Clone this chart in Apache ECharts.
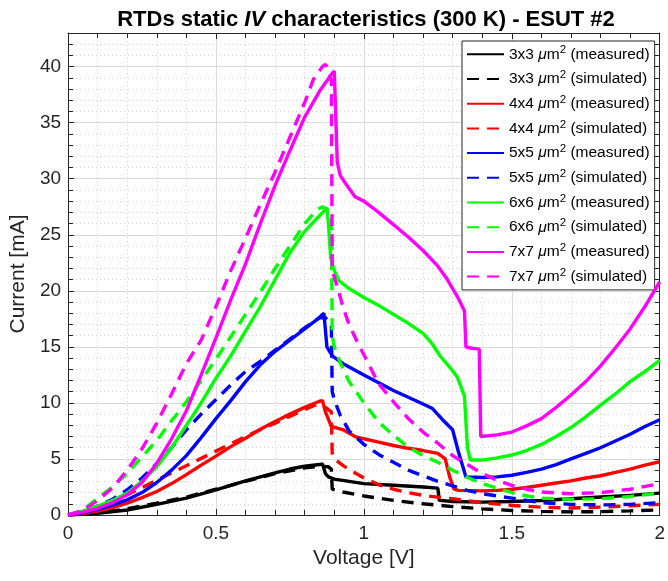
<!DOCTYPE html>
<html><head><meta charset="utf-8">
<script src="https://cdn.jsdelivr.net/npm/echarts@6/dist/echarts.min.js"></script>
<style>html,body{margin:0;padding:0;background:#fff}#c{width:668px;height:581px}</style>
</head><body><div id="c"></div>
<script>
// ---- tick labels ----
const xTicks = [0, 0.5, 1, 1.5, 2];
const xTickLabels = ['0', '0.5', '1', '1.5', '2'];
const yTicks = [0, 5, 10, 15, 20, 25, 30, 35, 40];
const yTickLabels = ['0', '5', '10', '15', '20', '25', '30', '35', '40'];

// ---- series names ----
const seriesNames = [
  '3x3 μm2 (measured)', '3x3 μm2 (simulated)',
  '4x4 μm2 (measured)', '4x4 μm2 (simulated)',
  '5x5 μm2 (measured)', '5x5 μm2 (simulated)',
  '6x6 μm2 (measured)', '6x6 μm2 (simulated)',
  '7x7 μm2 (measured)', '7x7 μm2 (simulated)'
];
const seriesColors = ['#000000', '#000000', '#ff0000', '#ff0000', '#0000ff', '#0000ff', '#00ff00', '#00ff00', '#ff00ff', '#ff00ff'];

// ---- data: [voltage V, current mA] ----
const iv3m = [[0,0],[0.1,0.15],[0.2,0.45],[0.3,0.95],[0.4,1.5],[0.5,2.25],[0.6,3.05],[0.7,3.75],[0.75,4.1],[0.8,4.35],[0.85,4.5],[0.86,4.55],[0.87,3.7],[0.88,3.4],[0.9,3.2],[0.95,3.0],[1.0,2.8],[1.1,2.65],[1.2,2.5],[1.25,2.4],[1.255,1.3],[1.3,1.2],[1.4,1.15],[1.5,1.2],[1.6,1.3],[1.7,1.45],[1.8,1.6],[1.9,1.75],[2.0,1.95]];
const iv3s = [[0,0],[0.1,0.2],[0.2,0.55],[0.3,1.05],[0.4,1.6],[0.5,2.3],[0.6,3.0],[0.7,3.7],[0.8,4.2],[0.85,4.35],[0.88,4.3],[0.89,4.1],[0.893,2.3],[0.93,2.05],[1.0,1.7],[1.1,1.3],[1.2,1.0],[1.3,0.75],[1.4,0.55],[1.5,0.4],[1.6,0.32],[1.7,0.28],[1.8,0.3],[1.9,0.37],[2.0,0.45]];
const iv4m = [[0,0],[0.05,0.12],[0.1,0.35],[0.15,0.65],[0.2,1.05],[0.25,1.55],[0.3,2.1],[0.35,2.8],[0.4,3.6],[0.45,4.45],[0.5,5.25],[0.55,6.1],[0.6,6.85],[0.65,7.65],[0.7,8.35],[0.75,9.0],[0.8,9.6],[0.85,10.15],[0.86,10.2],[0.87,9.2],[0.89,7.9],[0.93,7.6],[0.97,7.0],[1.0,6.8],[1.05,6.5],[1.1,6.2],[1.15,5.95],[1.2,5.75],[1.25,5.5],[1.275,5.0],[1.29,3.4],[1.305,2.3],[1.32,2.2],[1.4,2.15],[1.45,2.2],[1.5,2.3],[1.55,2.45],[1.6,2.65],[1.65,2.85],[1.7,3.05],[1.75,3.3],[1.8,3.5],[1.85,3.8],[1.9,4.1],[1.95,4.45],[2.0,4.75]];
const iv4s = [[0,0],[0.05,0.25],[0.1,0.7],[0.15,1.2],[0.2,1.8],[0.25,2.45],[0.3,3.1],[0.35,3.75],[0.4,4.4],[0.45,5.05],[0.5,5.7],[0.55,6.35],[0.6,7.0],[0.65,7.6],[0.7,8.2],[0.75,8.8],[0.8,9.4],[0.84,9.85],[0.87,9.6],[0.89,9.2],[0.893,5.5],[0.9,5.0],[0.93,4.4],[0.96,3.9],[1.0,3.3],[1.05,2.7],[1.1,2.3],[1.15,2.0],[1.2,1.75],[1.25,1.6],[1.3,1.45],[1.4,1.1],[1.5,0.85],[1.6,0.7],[1.7,0.62],[1.8,0.7],[1.9,0.82],[2.0,0.95]];
const iv5m = [[0,0],[0.05,0.2],[0.1,0.5],[0.15,0.9],[0.2,1.35],[0.25,2.0],[0.3,2.9],[0.35,4.0],[0.4,5.3],[0.45,6.9],[0.5,8.6],[0.55,10.2],[0.6,11.9],[0.65,13.4],[0.7,14.6],[0.75,15.6],[0.8,16.6],[0.84,17.4],[0.865,18.0],[0.875,15.0],[0.893,14.2],[0.93,13.5],[1.0,12.5],[1.1,11.1],[1.2,9.9],[1.232,9.5],[1.266,8.5],[1.3,7.6],[1.32,5.6],[1.345,3.4],[1.4,3.35],[1.45,3.4],[1.5,3.55],[1.55,3.8],[1.6,4.1],[1.65,4.5],[1.7,5.0],[1.75,5.5],[1.8,6.0],[1.85,6.6],[1.9,7.2],[1.95,7.9],[2.0,8.5]];
const iv5s = [[0,0],[0.05,0.3],[0.1,0.8],[0.15,1.4],[0.2,2.25],[0.25,3.3],[0.3,4.6],[0.35,6.0],[0.4,7.6],[0.45,9.0],[0.5,10.3],[0.55,11.6],[0.6,12.8],[0.65,13.7],[0.7,14.7],[0.75,15.7],[0.8,16.7],[0.85,17.6],[0.87,17.6],[0.89,17.0],[0.893,11.0],[0.9,10.3],[0.92,8.9],[0.95,7.5],[1.0,6.3],[1.05,5.4],[1.1,4.7],[1.15,4.0],[1.2,3.5],[1.25,3.0],[1.3,2.6],[1.35,2.2],[1.4,1.9],[1.5,1.5],[1.6,1.1],[1.7,0.95],[1.8,0.9],[1.9,0.95],[2.0,1.1]];
const iv6m = [[0,0],[0.05,0.35],[0.1,0.8],[0.15,1.3],[0.2,1.95],[0.25,3.0],[0.3,4.3],[0.35,6.0],[0.4,8.0],[0.45,10.0],[0.5,12.2],[0.55,14.2],[0.6,16.4],[0.65,18.6],[0.7,21.0],[0.75,23.4],[0.8,25.3],[0.85,26.7],[0.875,27.4],[0.88,26.0],[0.888,22.9],[0.9,21.8],[0.916,20.9],[0.95,20.2],[1.0,19.4],[1.05,18.7],[1.1,17.9],[1.15,17.1],[1.2,16.2],[1.23,15.3],[1.26,14.1],[1.29,13.2],[1.316,12.3],[1.34,10.6],[1.35,6.0],[1.36,4.9],[1.4,4.9],[1.45,5.1],[1.5,5.35],[1.55,5.75],[1.6,6.3],[1.65,7.0],[1.7,7.8],[1.75,8.75],[1.8,9.8],[1.85,10.8],[1.9,11.9],[1.95,12.8],[2.0,13.8]];
const iv6s = [[0,0],[0.05,0.45],[0.1,1.5],[0.15,2.5],[0.2,3.7],[0.25,5.2],[0.3,6.65],[0.35,8.4],[0.4,10.1],[0.45,12.0],[0.5,13.9],[0.55,15.9],[0.6,17.9],[0.65,19.9],[0.7,22.0],[0.75,24.0],[0.8,26.0],[0.84,27.2],[0.86,27.5],[0.875,27.3],[0.89,26.5],[0.893,16.0],[0.9,15.0],[0.92,13.6],[0.95,11.9],[1.0,10.0],[1.05,8.3],[1.1,7.1],[1.15,6.05],[1.2,5.3],[1.25,4.7],[1.3,4.0],[1.35,3.35],[1.4,2.8],[1.45,2.4],[1.5,2.0],[1.55,1.7],[1.6,1.5],[1.7,1.4],[1.8,1.45],[1.9,1.65],[2.0,1.95]];
const iv7m = [[0,0],[0.05,0.25],[0.1,0.6],[0.15,1.1],[0.2,1.8],[0.25,2.9],[0.3,4.6],[0.35,6.8],[0.4,9.3],[0.45,12.5],[0.5,15.8],[0.55,19.2],[0.6,22.4],[0.65,26.0],[0.7,29.4],[0.75,32.5],[0.8,35.5],[0.85,37.8],[0.89,39.3],[0.9,39.6],[0.905,39.5],[0.91,31.5],[0.92,30.3],[0.94,29.5],[0.97,28.4],[1.0,28.0],[1.05,27.0],[1.1,25.9],[1.15,24.8],[1.2,23.6],[1.25,22.2],[1.28,21.1],[1.3,20.2],[1.32,19.3],[1.34,18.2],[1.345,15.0],[1.36,14.9],[1.39,14.8],[1.395,7.0],[1.45,7.15],[1.5,7.4],[1.55,7.95],[1.6,8.6],[1.65,9.6],[1.7,10.7],[1.75,11.9],[1.8,13.3],[1.85,14.9],[1.9,16.6],[1.95,18.6],[2.0,20.8]];
const iv7s = [[0,0],[0.05,0.4],[0.1,1.3],[0.15,2.4],[0.2,4.0],[0.25,5.9],[0.3,8.2],[0.35,10.8],[0.4,13.5],[0.45,15.6],[0.5,18.6],[0.55,21.8],[0.6,24.7],[0.65,27.7],[0.7,30.6],[0.75,33.7],[0.8,36.8],[0.83,38.9],[0.86,40.0],[0.87,40.2],[0.88,39.8],[0.89,38.8],[0.893,22.0],[0.9,21.2],[0.91,20.4],[0.93,18.5],[0.95,17.0],[0.98,15.3],[1.0,14.3],[1.05,11.7],[1.1,10.1],[1.15,8.6],[1.2,7.4],[1.25,6.4],[1.3,5.3],[1.35,4.5],[1.4,3.7],[1.45,3.1],[1.5,2.65],[1.55,2.3],[1.6,2.05],[1.7,1.9],[1.8,2.0],[1.9,2.3],[2.0,2.8]];

const seriesData = [iv3m, iv3s, iv4m, iv4s, iv5m, iv5s, iv6m, iv6s, iv7m, iv7s];

const FONT = 'Liberation Sans, Arial, Helvetica, sans-serif';
const AX = '#262626';
const chart = echarts.init(document.getElementById('c'), null, {renderer: 'canvas'});

const commonX = {
  type: 'value', min: 0, max: 2, interval: 0.5,
  axisLine: {show: true, onZero: false, lineStyle: {color: AX, width: 1}},
  axisTick: {show: true, inside: true, length: 6, lineStyle: {color: AX}},
  minorTick: {show: true, splitNumber: 5, length: 5, lineStyle: {color: AX}}
};

const option = {
  animation: false,
  backgroundColor: '#fff',
  title: {
    text: 'RTDs static {i|IV} characteristics (300 K) - ESUT #2',
    left: 361, top: 4, textAlign: 'center',
    textStyle: {fontFamily: FONT, fontSize: 22, fontWeight: 'bold', color: '#000',
      rich: {i: {fontFamily: FONT, fontSize: 22, fontWeight: 'bold', fontStyle: 'italic', color: '#000'}}}
  },
  grid: {left: 67, right: 1, top: 33, bottom: 66, containLabel: false},
  legend: {
    orient: 'vertical', left: 462, top: 41,
    padding: [3.3, 5, 3.3, 4],
    itemWidth: 37, itemHeight: 14, itemGap: 4.7,
    backgroundColor: '#fff', borderColor: AX, borderWidth: 1,
    selectedMode: false,
    itemStyle: {opacity: 0},
    data: seriesNames,
    formatter: n => n.replace('μm2', '{mu|μ}m{sup|2}'),
    textStyle: {fontFamily: FONT, fontSize: 15.5, color: '#000', lineHeight: 20,
      rich: {
        mu: {fontFamily: FONT, fontSize: 15.5, fontStyle: 'italic', color: '#000', lineHeight: 20},
        sup: {fontFamily: FONT, fontSize: 11.5, color: '#000', lineHeight: 12, verticalAlign: 'top'}
      }}
  },
  xAxis: [
    Object.assign({}, commonX, {
      position: 'bottom',
      name: 'Voltage [V]', nameLocation: 'middle', nameGap: 27,
      nameTextStyle: {fontFamily: FONT, fontSize: 21, color: AX},
      axisLabel: {fontFamily: FONT, fontSize: 19, color: AX, margin: 9,
        formatter: v => { const k = xTicks.indexOf(v); return k >= 0 ? xTickLabels[k] : ''; }},
      splitLine: {show: true, lineStyle: {color: '#dcdcdc', width: 1}},
      minorSplitLine: {show: true, lineStyle: {color: '#d0d0d0', width: 1, type: [1, 3]}}
    }),
    Object.assign({}, commonX, {
      position: 'top', axisLabel: {show: false}, splitLine: {show: false}
    })
  ],
  yAxis: [
    {
      type: 'value', min: 0, max: 43, interval: 5, position: 'left',
      name: 'Current [mA]', nameLocation: 'middle', nameGap: 38,
      nameTextStyle: {fontFamily: FONT, fontSize: 21, color: AX},
      axisLine: {show: true, lineStyle: {color: AX, width: 1}},
      axisTick: {show: true, inside: true, length: 6, lineStyle: {color: AX}},
      axisLabel: {fontFamily: FONT, fontSize: 19, color: AX, margin: 7, showMaxLabel: false,
        formatter: v => { const k = yTicks.indexOf(v); return k >= 0 ? yTickLabels[k] : ''; }},
      splitLine: {show: true, lineStyle: {color: '#dcdcdc', width: 1}}
    },
    {
      type: 'value', min: 0, max: 43, interval: 1, position: 'left',
      axisLine: {show: false},
      axisTick: {show: true, inside: true, length: 5, lineStyle: {color: AX}},
      axisLabel: {show: false},
      splitLine: {show: true, lineStyle: {color: '#d0d0d0', width: 1, type: [1, 3]}}
    },
    {
      type: 'value', min: 0, max: 43, interval: 5, position: 'right',
      axisLine: {show: true, lineStyle: {color: AX, width: 1}},
      axisTick: {show: true, inside: true, length: 6, lineStyle: {color: AX}},
      axisLabel: {show: false}, splitLine: {show: false}
    },
    {
      type: 'value', min: 0, max: 43, interval: 1, position: 'right',
      axisLine: {show: false},
      axisTick: {show: true, inside: true, length: 5, lineStyle: {color: AX}},
      axisLabel: {show: false}, splitLine: {show: false}
    }
  ],
  series: seriesData.map((d, k) => ({
    name: seriesNames[k], type: 'line', data: d,
    xAxisIndex: 0, yAxisIndex: 0,
    showSymbol: false, symbol: 'none', smooth: false,
    lineStyle: {color: seriesColors[k], width: 3.4, type: (k % 2 === 1) ? [12, 8] : 'solid'},
    itemStyle: {color: seriesColors[k]},
    z: 3 + k
  }))
};
chart.setOption(option);
</script>
</body></html>
